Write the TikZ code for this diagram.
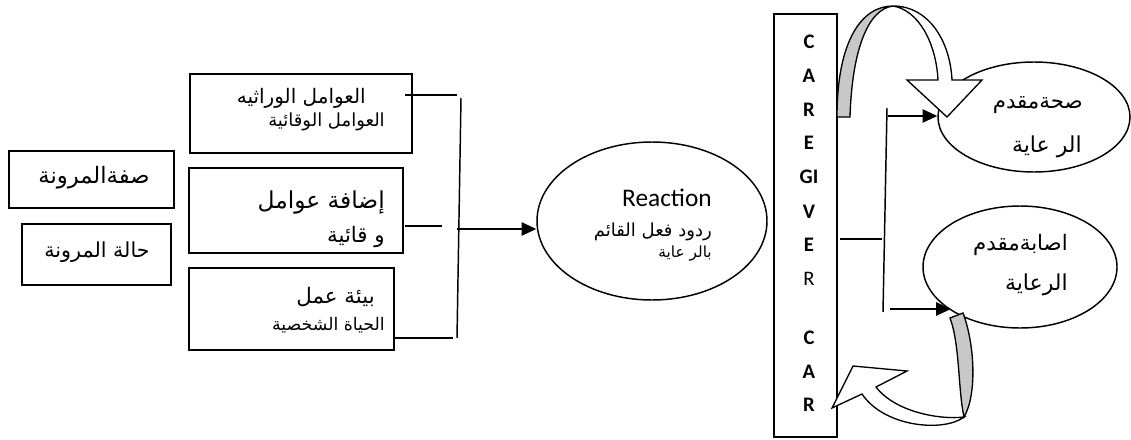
\documentclass[tikz,border=0pt]{standalone}
\usepackage{fontspec}
\usetikzlibrary{shapes.geometric,arrows.meta,fit}
\newfontfamily\arabicfont[Script=Arabic]{DejaVu Sans}
\newfontfamily\calfont{Carlito}
\TeXXeTstate=1
\newcommand\artxt[1]{{\arabicfont\beginR #1\endR}}
\definecolor{bandgray}{RGB}{200,200,200}
\begin{document}
\begin{tikzpicture}[x=0.75pt,y=-0.75pt,
  box/.style={draw, line width=1.4pt, inner sep=0pt},
  oval/.style={draw, ellipse, line width=1.1pt, inner sep=0pt},
  txt/.style={inner sep=0pt},
  rtxt/.style={inner sep=0pt, anchor=east},
  conn/.style={line width=1.1pt},
  arr/.style={line width=1.1pt, -{Triangle[length=11pt,width=10pt]}},
  band/.style={draw, line width=1pt, line join=miter, fill=bandgray},
  wband/.style={draw, line width=1pt, line join=miter, fill=white},
  letter/.style={inner sep=0pt, font=\calfont\bfseries\fontsize{15.5}{18}\selectfont}]
\useasboundingbox (0,0) rectangle (1131,439);

% left boxes
\node[box, fit={(9,151) (174,208)}] (s1) {};
\node[box, fit={(22,224) (171,285)}] (s2) {};
\node[txt, font=\fontsize{17}{19}\selectfont] (s1t) at (94,178) {\artxt{صفةالمرونة}};
\node[txt, font=\fontsize{15.5}{18}\selectfont] (s2t) at (97,252) {\artxt{حالة المرونة}};

% middle boxes
\node[box, fit={(190,74) (412,153)}] (b1) {};
\node[box, fit={(189,168) (403,253)}] (b2) {};
\node[box, fit={(189,268) (394,350)}] (b3) {};
\node[rtxt, font=\fontsize{15}{17}\selectfont] (b1a) at (366,98) {\artxt{العوامل الوراثيه}};
\node[rtxt, font=\fontsize{13.5}{15}\selectfont] (b1b) at (385,122) {\artxt{العوامل الوقائية}};
\node[rtxt, font=\fontsize{17.5}{20}\selectfont] (b2a) at (385,202) {\artxt{إضافة عوامل}};
\node[rtxt, font=\fontsize{16}{18}\selectfont] (b2b) at (385,237) {\artxt{و قائية}};
\node[rtxt, font=\fontsize{16}{19}\selectfont] (b3a) at (375,297) {\artxt{بيئة عمل}};
\node[rtxt, font=\fontsize{13}{15}\selectfont] (b3b) at (385,325) {\artxt{الحياة الشخصية}};

% reaction ellipse
\node[oval, minimum width=172.5pt, minimum height=118.5pt] (R) at (652,221) {};
\node[rtxt, font=\calfont\fontsize{19}{22}\selectfont] (Rt) at (712,198) {Reaction};
\node[rtxt, font=\fontsize{13.5}{16}\selectfont] (Ra) at (712,232) {\artxt{ردود فعل القائم}};
\node[rtxt, font=\fontsize{11.5}{14}\selectfont] (Rb) at (712,254) {\artxt{بالر عاية}};

% left bus
\coordinate (l1a) at (405,95);  \coordinate (l1b) at (457,95);
\coordinate (l2a) at (405,226); \coordinate (l2b) at (442,226);
\coordinate (l3a) at (395,338); \coordinate (l3b) at (453,338);
\coordinate (busT) at (461,98); \coordinate (busB) at (457,338);
\coordinate (j) at (457,229);
\draw[conn] (l1a) -- (l1b);
\draw[conn] (l2a) -- (l2b);
\draw[conn] (l3a) -- (l3b);
\draw[conn] (busT) -- (busB);
\draw[arr] (j) -- (j -| R.west);

% caregiver box
\node[box, fit={(774,14) (837,437)}] (cg) {};
\foreach \l/\yy in {C/42, A/76, R/110, E/143, GI/177, V/212, E/245, C/338, A/372, R/405}
  \node[letter] at (809,\yy) {\l};
\node[inner sep=0pt, font=\calfont\fontsize{15.5}{18}\selectfont] (cgR) at (809,279) {R};

% right ellipses
\node[oval, minimum width=144pt, minimum height=82.5pt] (topE) at (1034,117) {};
\node[oval, minimum width=145.5pt, minimum height=91.5pt] (botE) at (1020,267) {};
\node[rtxt, font=\fontsize{16}{18}\selectfont] (t1) at (1083,105) {\artxt{صحةمقدم}};
\node[rtxt, font=\fontsize{16.5}{18}\selectfont] (t2) at (1082,147) {\artxt{الر عاية}};
\node[rtxt, font=\fontsize{16}{18}\selectfont] (u1) at (1068,245) {\artxt{اصابةمقدم}};
\node[rtxt, font=\fontsize{16.5}{18}\selectfont] (u2) at (1068,285) {\artxt{الرعاية}};

% right bus
\coordinate (r0a) at (840,239); \coordinate (r0b) at (882,239);
\coordinate (rT) at (887,108);  \coordinate (rB) at (883,312);
\coordinate (a1) at (888,116);  \coordinate (a2) at (890,309);
\draw[conn] (r0a) -- (r0b);
\draw[conn] (rT) -- (rB);
\draw[arr] (a1) -- (a1 -| topE.west);
\draw[arr] (a2) -- (a2 -| botE.south west);

% top curved arrow
\draw[band] (837,117) -- (850,117) .. controls (852,50) and (868,9) .. (893,6)
  .. controls (862,6) and (837,40) .. cycle;
\draw[wband] (893,6) .. controls (928,6) and (950,40) .. (952,80) -- (982,80) -- (947,117)
  -- (907,80) -- (938,80) .. controls (936,42) and (918,10) .. cycle;

% bottom curved arrow
\draw[band] (950,318) -- (963,313) .. controls (975,345) and (977,395) .. (964,417)
  .. controls (958,390) and (960,345) .. cycle;
\draw[wband] (964,417) .. controls (945,432) and (885,428) .. (862,394) -- (832,408)
  -- (853,366) -- (907,371) -- (876,387) .. controls (895,412) and (940,420) .. cycle;
\end{tikzpicture}
\end{document}
